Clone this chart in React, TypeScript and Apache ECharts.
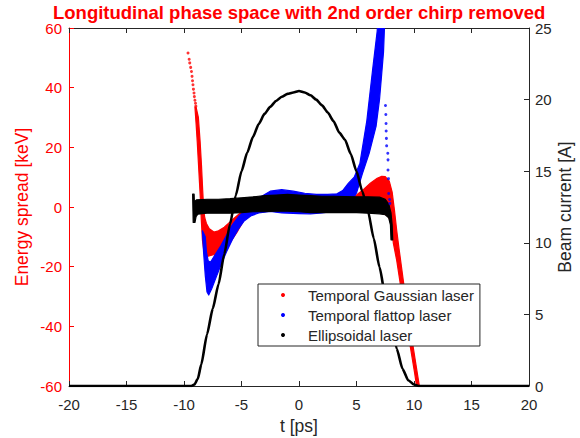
import React, { useEffect, useRef } from "react";
import * as echarts from "echarts";

const TITLE = "Longitudinal phase space with 2nd order chirp removed";
const X_NAME = "t [ps]";
const Y_LEFT_NAME = "Energy spread [keV]";
const Y_RIGHT_NAME = "Beam current [A]";
const SERIES_NAMES = ["Temporal Gaussian laser", "Temporal flattop laser", "Ellipsoidal laser"];
const SERIES_COLORS = ["#ff0000", "#0000ff", "#000000"];
const FONT = "'Liberation Sans', Arial, Helvetica, sans-serif";
const AXIS_COLOR = "#262626";

// Beam current profile (right axis)
const currentT = [-20, -9.4, -9.1, -8.8, -8.5, -8.0, -7.5, -7.0, -6.5, -6.0, -5.5, -5.0, -4.5, -4.0, -3.5, -3.0, -2.5, -2.0, -1.5, -1.0, -0.5, 0, 0.5, 1.0, 1.5, 2.0, 2.5, 3.0, 3.5, 4.0, 4.5, 5.0, 5.5, 6.0, 6.5, 7.0, 7.5, 8.0, 8.5, 9.0, 9.5, 10.0, 10.4, 20];
const currentA = [0, 0, 0.1, 0.5, 1.5, 3.6, 5.4, 7.1, 9.2, 11.3, 13.3, 15.0, 16.3, 17.4, 18.3, 19.0, 19.5, 19.9, 20.2, 20.4, 20.5, 20.6, 20.5, 20.3, 20.0, 19.6, 19.1, 18.5, 17.7, 17.2, 16.2, 15.0, 13.6, 12.2, 10.3, 8.3, 6.3, 4.4, 2.6, 1.2, 0.4, 0.1, 0, 0];

// Outline [t, E] of the dense particle cloud, temporal Gaussian laser
const gaussianCloud = [
  [-8.95, 33.5], [-8.75, 30], [-8.6, 22], [-8.48, 14], [-8.38, 6], [-8.3, 0], [-8.2, -3.5], [-8.05, -5.5],
  [-7.8, -7.3], [-7.4, -8.4], [-7.0, -8], [-6.5, -6.8], [-5.8, -4.3], [-5.0, -1.7], [-4.0, 0.6], [-3.0, 1.8],
  [-2.0, 2.5], [0, 2.8], [2, 2.8], [3.5, 2.8], [4.5, 3.2], [5.0, 4], [5.5, 5.5], [6.2, 8], [6.8, 9.6],
  [7.2, 10.3], [7.5, 10.2], [7.85, 8.7], [8.1, 5], [8.3, -1], [8.5, -8], [8.7, -14], [9.1, -25.5],
  [9.45, -35], [9.85, -45], [10.3, -56], [10.55, -62],
  [10.3, -62], [10.05, -55.5], [9.6, -45], [9.2, -35.5], [8.8, -25.5], [8.5, -18], [8.2, -12], [8.0, -5],
  [7.7, -2.8], [7.0, -1.8], [6.0, -0.8], [5.0, 0], [4.0, 0], [2, -0.3], [0, -0.5], [-2.0, -0.3], [-2.5, 0],
  [-3.5, -1.5], [-4.0, -2.3], [-4.7, -3.8], [-5.4, -8.5], [-6.1, -12.5], [-7.0, -15.5], [-7.9, -16.5],
  [-8.25, -15.5], [-8.4, -11], [-8.5, -4], [-8.55, 1], [-8.65, 8], [-8.75, 15], [-8.85, 22], [-8.95, 28],
  [-9.05, 33.5],
];
// Sparse particles of the Gaussian head
const gaussianTail = [
  [-9.65, 51.6], [-9.55, 49.5], [-9.5, 48.3], [-9.42, 46.8], [-9.35, 45.4], [-9.3, 43.8], [-9.26, 42.3],
  [-9.22, 41], [-9.18, 39.5], [-9.13, 38.2], [-9.1, 37], [-9.05, 35.8], [-9.0, 34.8], [-8.97, 33.8],
];

// Outline [t, E] of the dense particle cloud, temporal flattop laser
const flattopCloud = [
  [-8.4, -8], [-8.3, -15], [-8.15, -23], [-8.0, -28.5], [-7.85, -29.5], [-7.6, -27.5], [-7.2, -23.5],
  [-6.8, -19.5], [-6.3, -15], [-5.8, -11], [-5.3, -7.5], [-4.8, -4.8], [-4.2, -3], [-3.5, -2], [-2.5, -1.5],
  [-1.5, -2], [0, -2.2], [1, -2.3], [2, -2], [3, -1.5], [3.8, -1], [4.5, 1.5], [5.0, 4.7], [5.5, 11],
  [6.1, 18], [6.7, 27], [7.0, 36], [7.2, 45], [7.35, 52], [7.45, 62], [7.45, 66], [6.9, 66],
  [6.8, 59], [6.4, 46], [5.9, 29], [5.3, 14.7], [4.8, 10], [4.3, 8], [3.8, 5.5], [3.3, 4.4], [2.5, 4.2],
  [1.5, 4.2], [0.5, 4.6], [-0.5, 5.3], [-1.5, 5.8], [-2.5, 5.3], [-3.5, 3], [-4.5, -0.5], [-5.2, -3],
  [-5.8, -6], [-6.3, -9.5], [-6.8, -13], [-7.3, -16], [-7.7, -18.5], [-7.9, -18], [-8.05, -15], [-8.15, -10],
];
// Sparse particles behind the flattop spike
const flattopTail = [
  [7.52, 34], [7.55, 31], [7.57, 28], [7.58, 25.5], [7.6, 23], [7.62, 20.5], [7.72, 18], [7.74, 15.8],
  [7.74, 12.4], [7.78, 9.5], [7.8, 4.5], [7.88, 2.5], [7.9, 1.2],
];

// Outline [t, E] of the dense particle cloud, ellipsoidal laser
const ellipsoidCloud = [
  [-9.25, 4.3], [-9.12, 4.3], [-9.1, 1.8], [-8.9, 2.4], [-8.0, 2.6], [-7.0, 2.6], [-6.0, 2.8], [-5.0, 3.1],
  [-4.0, 3.4], [-3.0, 3.8], [-2.0, 4.0], [-1.0, 4.2], [0, 4.0], [1.0, 3.8], [2.0, 3.6], [3.0, 3.6], [4.0, 3.5],
  [5.0, 3.4], [6.0, 3.4], [7.0, 3.3], [7.5, 2.6], [7.8, 1.0], [8.0, -2], [8.1, -6], [8.15, -11],
  [8.0, -11], [7.95, -6], [7.8, -3.6], [7.5, -2.6], [7.0, -2.3], [6.0, -2.1], [5.0, -1.9], [4.0, -1.9],
  [3.0, -1.9], [2.0, -1.9], [1.0, -1.9], [0, -1.6], [-1.0, -1.4], [-2.0, -1.4], [-3.0, -1.6], [-4.0, -1.6],
  [-5.0, -1.9], [-6.0, -2.1], [-7.0, -2.1], [-8.0, -2.1], [-8.8, -2.4], [-8.95, -3.2], [-9.05, -5.2], [-9.2, -5.2],
];

const cloudSeries = (name: string, outline: number[][], color: string) => ({
  type: "custom",
  name,
  xAxisIndex: 0,
  yAxisIndex: 0,
  clip: true,
  silent: true,
  itemStyle: { color },
  data: [[0, 0]],
  renderItem: (_params: any, api: any) => ({
    type: "polygon",
    shape: { points: outline.map((p) => api.coord(p)) },
    style: { fill: color, stroke: color, lineWidth: 1.2, lineJoin: "round" },
  }),
});

const tailSeries = (name: string, pts: number[][], color: string) => ({
  type: "scatter",
  name,
  xAxisIndex: 0,
  yAxisIndex: 0,
  silent: true,
  symbol: "circle",
  symbolSize: 3,
  itemStyle: { color },
  data: pts,
});

export default function App() {
  const ref = useRef<HTMLDivElement>(null);

  useEffect(() => {
    if (!ref.current) return;
    const chart = echarts.init(ref.current, undefined, { renderer: "svg" });

    const xCommon = {
      type: "value",
      min: -20,
      max: 20,
      interval: 5,
      splitLine: { show: false },
      axisLine: { show: true, onZero: false, lineStyle: { color: AXIS_COLOR, width: 1 } },
      axisTick: { show: true, inside: true, length: 5, lineStyle: { color: AXIS_COLOR } },
    };

    chart.setOption({
      animation: false,
      backgroundColor: "#ffffff",
      title: {
        text: TITLE,
        left: 53,
        top: 4,
        padding: 0,
        textStyle: { color: "#ff0000", fontSize: 18.5, lineHeight: 17, fontWeight: "bold", fontFamily: FONT },
      },
      legend: {
        orient: "vertical",
        left: 258,
        top: 284,
        backgroundColor: "#ffffff",
        borderColor: AXIS_COLOR,
        borderWidth: 1,
        borderRadius: 0,
        padding: [3, 6, 3, 23],
        itemWidth: 4,
        itemHeight: 4,
        itemGap: 4,
        selectedMode: false,
        textStyle: { fontSize: 15, color: AXIS_COLOR, fontFamily: FONT, lineHeight: 16, padding: [0, 0, 0, 18] },
        data: SERIES_NAMES.map((n, i) => ({ name: n, icon: "circle", itemStyle: { color: SERIES_COLORS[i] } })),
      },
      grid: {
        left: 69,
        top: 28,
        width: 460,
        height: 358,
        containLabel: false,
        outerBoundsMode: "none",
      },
      xAxis: [
        {
          ...xCommon,
          position: "bottom",
          name: X_NAME,
          nameLocation: "middle",
          nameGap: 31,
          nameMoveOverlap: false,
          nameTextStyle: { color: AXIS_COLOR, fontSize: 17.5, fontFamily: FONT },
          axisLabel: { color: AXIS_COLOR, fontSize: 15, fontFamily: FONT, margin: 11 },
        },
        {
          ...xCommon,
          position: "top",
          axisLabel: { show: false },
        },
      ],
      yAxis: [
        {
          type: "value",
          position: "left",
          min: -60,
          max: 60,
          interval: 20,
          splitLine: { show: false },
          axisLine: { show: true, onZero: false, lineStyle: { color: "#ff0000", width: 1 } },
          axisTick: { show: true, inside: true, length: 5, lineStyle: { color: "#ff0000" } },
          axisLabel: { color: "#ff0000", fontSize: 15, lineHeight: 11, fontFamily: FONT, margin: 7 },
          name: Y_LEFT_NAME,
          nameLocation: "middle",
          nameRotate: 90,
          nameGap: 38,
          nameMoveOverlap: false,
          nameTextStyle: { color: "#ff0000", fontSize: 17.5, fontFamily: FONT },
        },
        {
          type: "value",
          position: "right",
          min: 0,
          max: 25,
          interval: 5,
          splitLine: { show: false },
          axisLine: { show: true, onZero: false, lineStyle: { color: AXIS_COLOR, width: 1 } },
          axisTick: { show: true, inside: true, length: 5, lineStyle: { color: AXIS_COLOR } },
          axisLabel: { color: AXIS_COLOR, fontSize: 15, lineHeight: 11, fontFamily: FONT, margin: 6 },
          name: Y_RIGHT_NAME,
          nameLocation: "middle",
          nameRotate: 90,
          nameGap: 27,
          nameMoveOverlap: false,
          nameTextStyle: { color: AXIS_COLOR, fontSize: 17.5, fontFamily: FONT },
        },
      ],
      series: [
        cloudSeries(SERIES_NAMES[0], gaussianCloud, SERIES_COLORS[0]),
        tailSeries(SERIES_NAMES[0], gaussianTail, SERIES_COLORS[0]),
        cloudSeries(SERIES_NAMES[1], flattopCloud, SERIES_COLORS[1]),
        tailSeries(SERIES_NAMES[1], flattopTail, SERIES_COLORS[1]),
        cloudSeries(SERIES_NAMES[2], ellipsoidCloud, SERIES_COLORS[2]),
        {
          type: "line",
          name: "Beam current",
          xAxisIndex: 0,
          yAxisIndex: 1,
          silent: true,
          showSymbol: false,
          smooth: 0.2,
          smoothMonotone: "x",
          clip: true,
          lineStyle: { color: "#000000", width: 2.6 },
          data: currentT.map((t, i) => [t, currentA[i]]),
        },
      ],
    });

    return () => chart.dispose();
  }, []);

  return (
    <div
      ref={ref}
      style={{ position: "absolute", left: 0, top: 0, width: 580, height: 438 }}
    />
  );
}
